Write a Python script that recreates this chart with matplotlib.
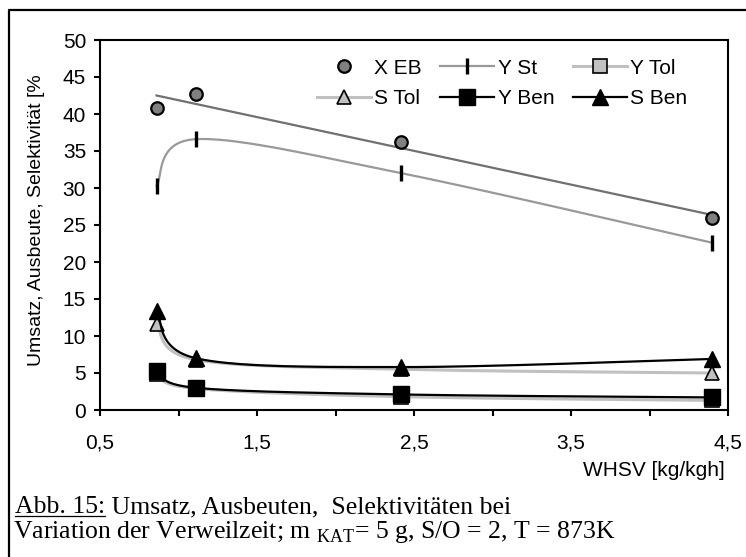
import numpy as np
import matplotlib.pyplot as plt
from matplotlib.lines import Line2D
from matplotlib.ticker import FixedLocator, FuncFormatter

whsv = [0.86, 1.11, 2.42, 4.40]
x_eb = [40.8, 42.7, 36.2, 25.9]
y_st = [30.3, 36.6, 32.0, 22.6]
y_tol = [4.8, 2.9, 1.8, 1.3]
s_tol = [11.6, 6.8, 5.5, 5.0]
y_ben = [5.3, 3.0, 2.1, 1.7]
s_ben = [13.4, 7.0, 5.8, 6.9]

x_major = [0.5, 1.5, 2.5, 3.5, 4.5]
x_minor = [1.0, 2.0, 3.0, 4.0]
y_ticks = [0, 5, 10, 15, 20, 25, 30, 35, 40, 45, 50]

plt.rcParams['font.family'] = ['Liberation Sans', 'DejaVu Sans']
plt.rcParams['mathtext.fontset'] = 'custom'
plt.rcParams['mathtext.rm'] = 'Liberation Serif'

W, H = 746, 557
fig = plt.figure(figsize=(W / 100, H / 100), dpi=100)
ax = fig.add_axes([100 / W, 147 / H, 628 / W, 370 / H])
ax.set_xlim(0.5, 4.5)
ax.set_ylim(0, 50)


def smooth(xs, ys, n=60):
    # Excel-artige Glaettung (Bezier, Catmull-Rom) in Pixelkoordinaten
    pts = ax.transData.transform(np.column_stack([xs, ys]))
    p = np.vstack([pts[0], pts, pts[-1]])
    t = np.linspace(0, 1, n)[:, None]
    segs = []
    for i in range(1, len(p) - 2):
        p0, p1, p2, p3 = p[i - 1], p[i], p[i + 1], p[i + 2]
        c1 = p1 + (p2 - p0) / 6
        c2 = p2 - (p3 - p1) / 6
        segs.append((1 - t) ** 3 * p1 + 3 * (1 - t) ** 2 * t * c1
                    + 3 * (1 - t) * t ** 2 * c2 + t ** 3 * p2)
    c = ax.transData.inverted().transform(np.vstack(segs))
    return c[:, 0], c[:, 1]


c_eb = '#707070'
c_st = '#999999'
c_tol = '#c0c0c0'
fs = 15

# X EB: Punkte + lineare Trendlinie
k, d = np.polyfit(whsv, x_eb, 1)
xt = np.array([whsv[0], whsv[-1]])
ax.plot(xt, k * xt + d, color=c_eb, lw=1.6, zorder=2)
ax.plot(whsv, x_eb, 'o', ms=9, mfc='#808080', mec='black', mew=1.6, zorder=3)

# Y St
sx, sy = smooth(whsv, y_st)
ax.plot(sx, sy, color=c_st, lw=1.6, zorder=2)
ax.plot(whsv, y_st, '|', ms=11, mec='black', mew=2.4, zorder=3)

# Toluol
sx, sy = smooth(whsv, y_tol)
ax.plot(sx, sy, color=c_tol, lw=2.2, zorder=2)
ax.plot(whsv, y_tol, 's', ms=10, mfc=c_tol, mec='black', mew=1.2, zorder=3)
sx, sy = smooth(whsv, s_tol)
ax.plot(sx, sy, color=c_tol, lw=2.2, zorder=2)
ax.plot(whsv, s_tol, '^', ms=10, mfc=c_tol, mec='black', mew=1.2, zorder=3)

# Benzol
sx, sy = smooth(whsv, y_ben)
ax.plot(sx, sy, color='black', lw=1.6, zorder=4)
ax.plot(whsv, y_ben, 's', ms=11, mfc='black', mec='black', zorder=5)
sx, sy = smooth(whsv, s_ben)
ax.plot(sx, sy, color='black', lw=1.6, zorder=4)
ax.plot(whsv, s_ben, '^', ms=11, mfc='black', mec='black', zorder=5)

# Achsen
for s in ax.spines.values():
    s.set_linewidth(1.5)
ax.xaxis.set_major_locator(FixedLocator(x_major))
ax.xaxis.set_minor_locator(FixedLocator(x_minor))
ax.xaxis.set_major_formatter(FuncFormatter(lambda v, p: f'{v:.1f}'.replace('.', ',')))
ax.set_yticks(y_ticks)
ax.tick_params(axis='both', which='both', direction='out', length=4, width=1.5,
               labelsize=fs)
ax.tick_params(axis='x', pad=13)
ax.tick_params(axis='y', pad=6)

fig.text(37 / W, 1 - 220 / H, 'Umsatz, Ausbeute, Selektivität [%',
         rotation=90, ha='center', va='center', fontsize=14)
fig.text(725 / W, 1 - 470 / H, 'WHSV [kg/kgh]', ha='right', va='center',
         fontsize=fs)

# Legende (2 Zeilen x 3 Spalten)
h_eb = Line2D([], [], ls='none', marker='o', ms=9, mfc='#808080', mec='black', mew=1.6)
h_st = Line2D([], [], color=c_st, lw=1.6, marker='|', ms=11, mec='black', mew=2.4)
h_ytol = Line2D([], [], color=c_tol, lw=2.2, marker='s', ms=10, mfc=c_tol, mec='black', mew=1.2)
h_stol = Line2D([], [], color=c_tol, lw=2.2, marker='^', ms=10, mfc=c_tol, mec='black', mew=1.2)
h_yben = Line2D([], [], color='black', lw=1.6, marker='s', ms=11, mfc='black')
h_sben = Line2D([], [], color='black', lw=1.6, marker='^', ms=11, mfc='black')
ax.legend([h_eb, h_stol, h_st, h_yben, h_ytol, h_sben],
          ['X EB', 'S Tol', 'Y St', 'Y Ben', 'Y Tol', 'S Ben'],
          ncol=3, loc='upper left', bbox_to_anchor=(0.345, 0.95),
          frameon=False, borderpad=0, borderaxespad=0, handlelength=2.6,
          handletextpad=0.15, columnspacing=0.9, labelspacing=0.55, fontsize=fs)

# Rahmen
fig.add_artist(Line2D([9 / W, 9 / W, 1], [0, 1 - 10 / H, 1 - 10 / H],
                      transform=fig.transFigure, color='black', lw=1.6))

# Bildunterschrift
cfs = 18.5
r = fig.canvas.get_renderer()
t1 = fig.text(15 / W, 1 - 513 / H, 'Abb. 15:', family='Liberation Serif',
              fontsize=cfs, va='baseline')
bb = t1.get_window_extent(r)
fig.add_artist(Line2D([bb.x0 / W, bb.x1 / W], [1 - 516 / H, 1 - 516 / H],
                      transform=fig.transFigure, color='black', lw=0.9))
fig.text(bb.x1 / W, 1 - 513 / H, ' Umsatz, Ausbeuten,  Selektivitäten bei',
         family='Liberation Serif', fontsize=cfs, va='baseline')
fig.text(13 / W, 1 - 538 / H,
         r'Variation der Verweilzeit; m $_{\mathrm{KAT}}$= 5 g, S/O = 2, T = 873K',
         family='Liberation Serif', fontsize=cfs, va='baseline')

fig.savefig('out.png', dpi=100)
